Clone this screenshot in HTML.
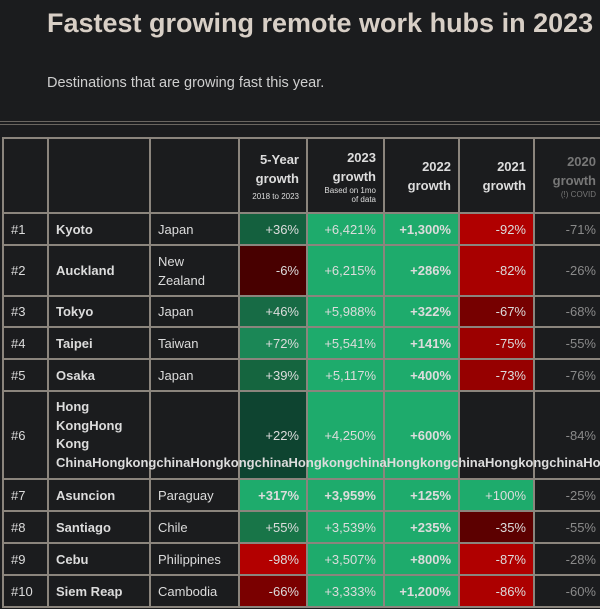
<!DOCTYPE html>
<html><head><style>
body{margin:0;width:600px;height:609px;overflow:hidden;background:#1b1c1e;font-family:"Liberation Sans",sans-serif;position:relative}
#w{position:absolute;left:0;top:0;width:600px;height:609px;overflow:hidden}
h1{position:absolute;left:47px;top:8px;margin:0;font-size:27px;color:#d8cfc6;font-weight:bold;white-space:nowrap}
.sub{position:absolute;left:47px;top:75px;font-size:14.5px;color:#cfcfcf}
.hl{position:absolute;left:0;width:600px;height:1px;background:#6a6660}
table{position:absolute;left:2px;top:137px;border-collapse:collapse;table-layout:fixed;width:598px}
td{border:2px solid #8b857d;color:#dcdcdc;font-size:13px;padding:0 7px;background:#1b1c1e;overflow:visible;white-space:nowrap}
td.r{text-align:right}
td.n{font-weight:bold}
td.d{color:#8a8a8a;text-align:right;padding-right:4px}
th{border:2px solid #8b857d;color:#ddd;font-size:13px;text-align:right;padding:0 7px;font-weight:bold;line-height:19px}
th small{display:block;font-size:8px;line-height:9px;font-weight:normal}
.g{background:#1eab6c!important}
.b{font-weight:bold}
</style></head><body><div id="w">
<h1>Fastest growing remote work hubs in 2023</h1>
<div class="sub">Destinations that are growing fast this year.</div>
<div class="hl" style="top:121px"></div><div class="hl" style="top:124px"></div>
<table>
<colgroup><col style="width:45px"><col style="width:102px"><col style="width:89px"><col style="width:68px"><col style="width:77px"><col style="width:75px"><col style="width:75px"><col style="width:67px"></colgroup>
<tr style="height:75px"><th></th><th></th><th></th><th>5-Year<br>growth<small style="margin-top:4px">2018 to 2023</small></th><th>2023<br>growth<small>Based on 1mo<br>of data</small></th><th>2022<br>growth</th><th>2021<br>growth</th><th style="color:#777;padding-right:4px">2020<br>growth<small>(!) COVID</small></th></tr>
<tr style="height:32px"><td>#1</td><td class="n">Kyoto</td><td>Japan</td><td class="r" style="background:#14603e">+36%</td><td class="r g">+6,421%</td><td class="r g b">+1,300%</td><td class="r" style="background:#b00000">-92%</td><td class="d">-71%</td></tr>
<tr style="height:51px"><td>#2</td><td class="n">Auckland</td><td style="white-space:normal;line-height:19px">New Zealand</td><td class="r" style="background:#480000">-6%</td><td class="r g">+6,215%</td><td class="r g b">+286%</td><td class="r" style="background:#a80000">-82%</td><td class="d">-26%</td></tr>
<tr style="height:31px"><td>#3</td><td class="n">Tokyo</td><td>Japan</td><td class="r" style="background:#176b45">+46%</td><td class="r g">+5,988%</td><td class="r g b">+322%</td><td class="r" style="background:#760000">-67%</td><td class="d">-68%</td></tr>
<tr style="height:32px"><td>#4</td><td class="n">Taipei</td><td>Taiwan</td><td class="r" style="background:#1b8756">+72%</td><td class="r g">+5,541%</td><td class="r g b">+141%</td><td class="r" style="background:#9c0000">-75%</td><td class="d">-55%</td></tr>
<tr style="height:32px"><td>#5</td><td class="n">Osaka</td><td>Japan</td><td class="r" style="background:#15653f">+39%</td><td class="r g">+5,117%</td><td class="r g b">+400%</td><td class="r" style="background:#960000">-73%</td><td class="d">-76%</td></tr>
<tr style="height:88px"><td>#6</td><td class="n" style="position:relative;line-height:18.5px;vertical-align:top;padding-top:6px">Hong<br>KongHong<br>Kong<br>ChinaHongkongchinaHongkongchinaHongkongchinaHongkongchinaHongkongchinaHongk</td><td></td><td class="r" style="background:#0e4430">+22%</td><td class="r g">+4,250%</td><td class="r g b">+600%</td><td></td><td class="d">-84%</td></tr>
<tr style="height:32px"><td>#7</td><td class="n">Asuncion</td><td>Paraguay</td><td class="r g b">+317%</td><td class="r g b">+3,959%</td><td class="r g b">+125%</td><td class="r g">+100%</td><td class="d">-25%</td></tr>
<tr style="height:32px"><td>#8</td><td class="n">Santiago</td><td>Chile</td><td class="r" style="background:#187548">+55%</td><td class="r g">+3,539%</td><td class="r g b">+235%</td><td class="r" style="background:#5c0000">-35%</td><td class="d">-55%</td></tr>
<tr style="height:32px"><td>#9</td><td class="n">Cebu</td><td>Philippines</td><td class="r" style="background:#b30000">-98%</td><td class="r g">+3,507%</td><td class="r g b">+800%</td><td class="r" style="background:#b00000">-87%</td><td class="d">-28%</td></tr>
<tr style="height:32px"><td>#10</td><td class="n">Siem Reap</td><td>Cambodia</td><td class="r" style="background:#7a0000">-66%</td><td class="r g">+3,333%</td><td class="r g b">+1,200%</td><td class="r" style="background:#ac0000">-86%</td><td class="d">-60%</td></tr>
</table>
</div></body></html>
